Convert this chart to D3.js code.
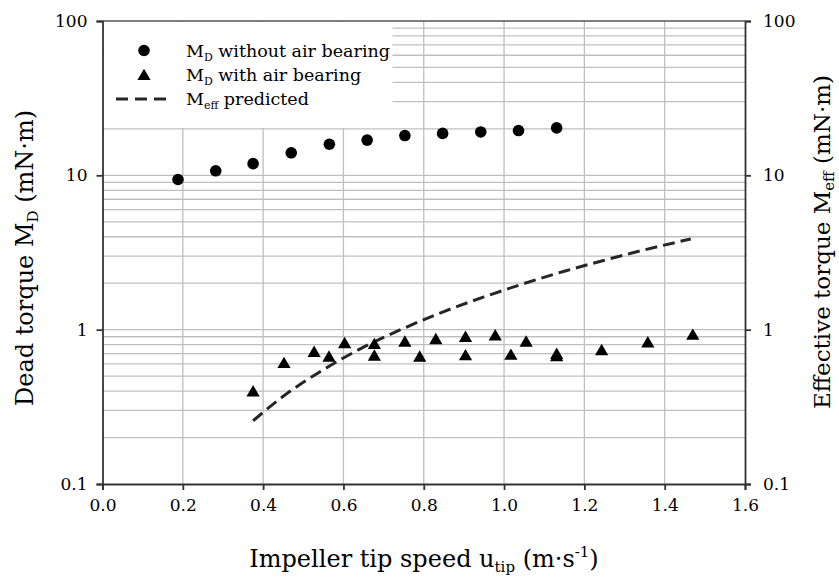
<!DOCTYPE html>
<html>
<head>
<meta charset="utf-8">
<script src="https://cdn.jsdelivr.net/npm/d3@7"></script>
<style>
  body { margin: 0; background: #fff; }
  text { font-family: "DejaVu Serif", serif; fill: #000; }
</style>
</head>
<body>
<script>
// dead torque without air bearing (circles)
const speedNoBearing = [0.188, 0.282, 0.375, 0.470, 0.565, 0.659, 0.753, 0.847, 0.942, 1.036, 1.131];
const torqueNoBearing = [9.4, 10.7, 11.9, 14.0, 15.9, 16.9, 18.1, 18.7, 19.1, 19.5, 20.3];

// dead torque with air bearing (triangles)
const speedBearing = [0.375, 0.452, 0.527, 0.564, 0.603, 0.677, 0.677, 0.753, 0.790, 0.830,
  0.904, 0.904, 0.978, 1.017, 1.055, 1.131, 1.131, 1.243, 1.358, 1.470];
const torqueBearing = [0.40, 0.61, 0.72, 0.67, 0.82, 0.81, 0.68, 0.84, 0.67, 0.87,
  0.90, 0.685, 0.92, 0.69, 0.84, 0.70, 0.675, 0.74, 0.83, 0.93];

// predicted effective torque (dashed)
const speedPred = [0.375, 0.45, 0.55, 0.65, 0.75, 0.85, 0.95, 1.05, 1.15, 1.25, 1.35, 1.465];
const torquePred = [0.257, 0.37, 0.55, 0.77, 1.02, 1.31, 1.63, 1.99, 2.39, 2.82, 3.29, 3.87];

const xTicks = [0, 0.2, 0.4, 0.6, 0.8, 1.0, 1.2, 1.4, 1.6];
const yTicks = [0.1, 1, 10, 100];

const W = 839, H = 577;
const x = d3.scaleLinear().domain([0, 1.6]).range([102.5, 745]);
const y = d3.scaleLog().domain([0.1, 100]).range([484, 21]);

const svg = d3.select("body").append("svg")
  .attr("width", W).attr("height", H);

// grid
const minors = [];
[0.1, 1, 10].forEach(d => { for (let k = 1; k <= 9; k++) minors.push(d * k); });
svg.append("g").selectAll("line").data(minors.filter(d => d > 0.1))
  .join("line")
  .attr("x1", x(0)).attr("x2", x(1.6))
  .attr("y1", d => y(d)).attr("y2", d => y(d))
  .attr("stroke", "#bfbfbf").attr("stroke-width", 1.3);
svg.append("g").selectAll("line").data(xTicks.slice(1, -1))
  .join("line")
  .attr("x1", d => x(d)).attr("x2", d => x(d))
  .attr("y1", y(100)).attr("y2", y(0.1))
  .attr("stroke", "#bfbfbf").attr("stroke-width", 1.3);

// legend background hides the grid behind it
svg.append("rect")
  .attr("x", x(0) + 1).attr("y", y(100) + 1)
  .attr("width", 289).attr("height", 106)
  .attr("fill", "#fff");

// axes
const fmtX = d3.format(".1f");
const xAxis = svg.append("g").attr("transform", `translate(0,${y(0.1)})`)
  .call(d3.axisBottom(x).tickValues(xTicks).tickFormat(fmtX).tickSize(6).tickPadding(9));
const yFmt = d => d < 1 ? "0.1" : String(d);
const yLeft = svg.append("g").attr("transform", `translate(${x(0)},0)`)
  .call(d3.axisLeft(y).tickValues(yTicks).tickFormat(yFmt).tickSize(6).tickPadding(9));
const yRight = svg.append("g").attr("transform", `translate(${x(1.6)},0)`)
  .call(d3.axisRight(y).tickValues(yTicks).tickFormat(yFmt).tickSize(6).tickPadding(12));
[xAxis, yLeft, yRight].forEach(g => {
  g.select(".domain").attr("stroke", "#333").attr("stroke-width", 1.8);
  g.selectAll(".tick line").attr("stroke", "#333").attr("stroke-width", 1.8);
  g.selectAll(".tick text").attr("font-family", "DejaVu Serif").attr("font-size", 17).attr("fill", "#000");
});
svg.append("line")
  .attr("x1", x(0)).attr("x2", x(1.6)).attr("y1", y(100)).attr("y2", y(100))
  .attr("stroke", "#555").attr("stroke-width", 1.5);

// predicted line
const line = d3.line().x(d => x(d[0])).y(d => y(d[1])).curve(d3.curveMonotoneX);
svg.append("path")
  .datum(d3.zip(speedPred, torquePred))
  .attr("d", line)
  .attr("fill", "none").attr("stroke", "#262626")
  .attr("stroke-width", 3).attr("stroke-dasharray", "12,6");

// points
svg.append("g").selectAll("circle").data(d3.zip(speedNoBearing, torqueNoBearing))
  .join("circle")
  .attr("cx", d => x(d[0])).attr("cy", d => y(d[1])).attr("r", 5.8)
  .attr("fill", "#000");
const tri = d3.symbol().type(d3.symbolTriangle).size(76);
svg.append("g").selectAll("path").data(d3.zip(speedBearing, torqueBearing))
  .join("path")
  .attr("d", tri)
  .attr("transform", d => `translate(${x(d[0])},${y(d[1]) + 1.5})`)
  .attr("fill", "#000");

// legend
const legendItems = [
  { kind: "circle", main: "M", sub: "D", rest: " without air bearing" },
  { kind: "triangle", main: "M", sub: "D", rest: " with air bearing" },
  { kind: "dash", main: "M", sub: "eff", rest: " predicted" }
];
const leg = svg.append("g");
legendItems.forEach((it, i) => {
  const cy = 50.5 + i * 24.3;
  if (it.kind === "circle") {
    leg.append("circle").attr("cx", 144).attr("cy", cy).attr("r", 5.8).attr("fill", "#000");
  } else if (it.kind === "triangle") {
    leg.append("path").attr("d", tri).attr("transform", `translate(144,${cy + 1.5})`).attr("fill", "#000");
  } else {
    leg.append("line").attr("x1", 116).attr("x2", 166).attr("y1", cy).attr("y2", cy)
      .attr("stroke", "#262626").attr("stroke-width", 3).attr("stroke-dasharray", "12,7");
  }
  const t = leg.append("text").attr("x", 186).attr("y", cy + 6).attr("font-size", 17.5);
  t.append("tspan").text(it.main);
  t.append("tspan").attr("font-size", 11).attr("dy", 4).text(it.sub);
  t.append("tspan").attr("dy", -4).text(it.rest);
});

// axis titles
const bt = svg.append("text").attr("x", 424).attr("y", 567)
  .attr("text-anchor", "middle").attr("font-size", 24);
bt.append("tspan").text("Impeller tip speed u");
bt.append("tspan").attr("font-size", 15).attr("dy", 5).text("tip");
bt.append("tspan").attr("dy", -5).text(" (m·s");
bt.append("tspan").attr("font-size", 15).attr("dy", -10).text("-1");
bt.append("tspan").attr("dy", 10).text(")");

const lt = svg.append("text").attr("transform", "translate(33,258) rotate(-90)")
  .attr("text-anchor", "middle").attr("font-size", 24);
lt.append("tspan").text("Dead torque M");
lt.append("tspan").attr("font-size", 15).attr("dy", 5).text("D");
lt.append("tspan").attr("dy", -5).text(" (mN·m)");

const rt = svg.append("text").attr("transform", "translate(830,242) rotate(-90)")
  .attr("text-anchor", "middle").attr("font-size", 23);
rt.append("tspan").text("Effective torque M");
rt.append("tspan").attr("font-size", 15).attr("dy", 4).text("eff");
rt.append("tspan").attr("dy", -4).text(" (mN·m)");
</script>
</body>
</html>
